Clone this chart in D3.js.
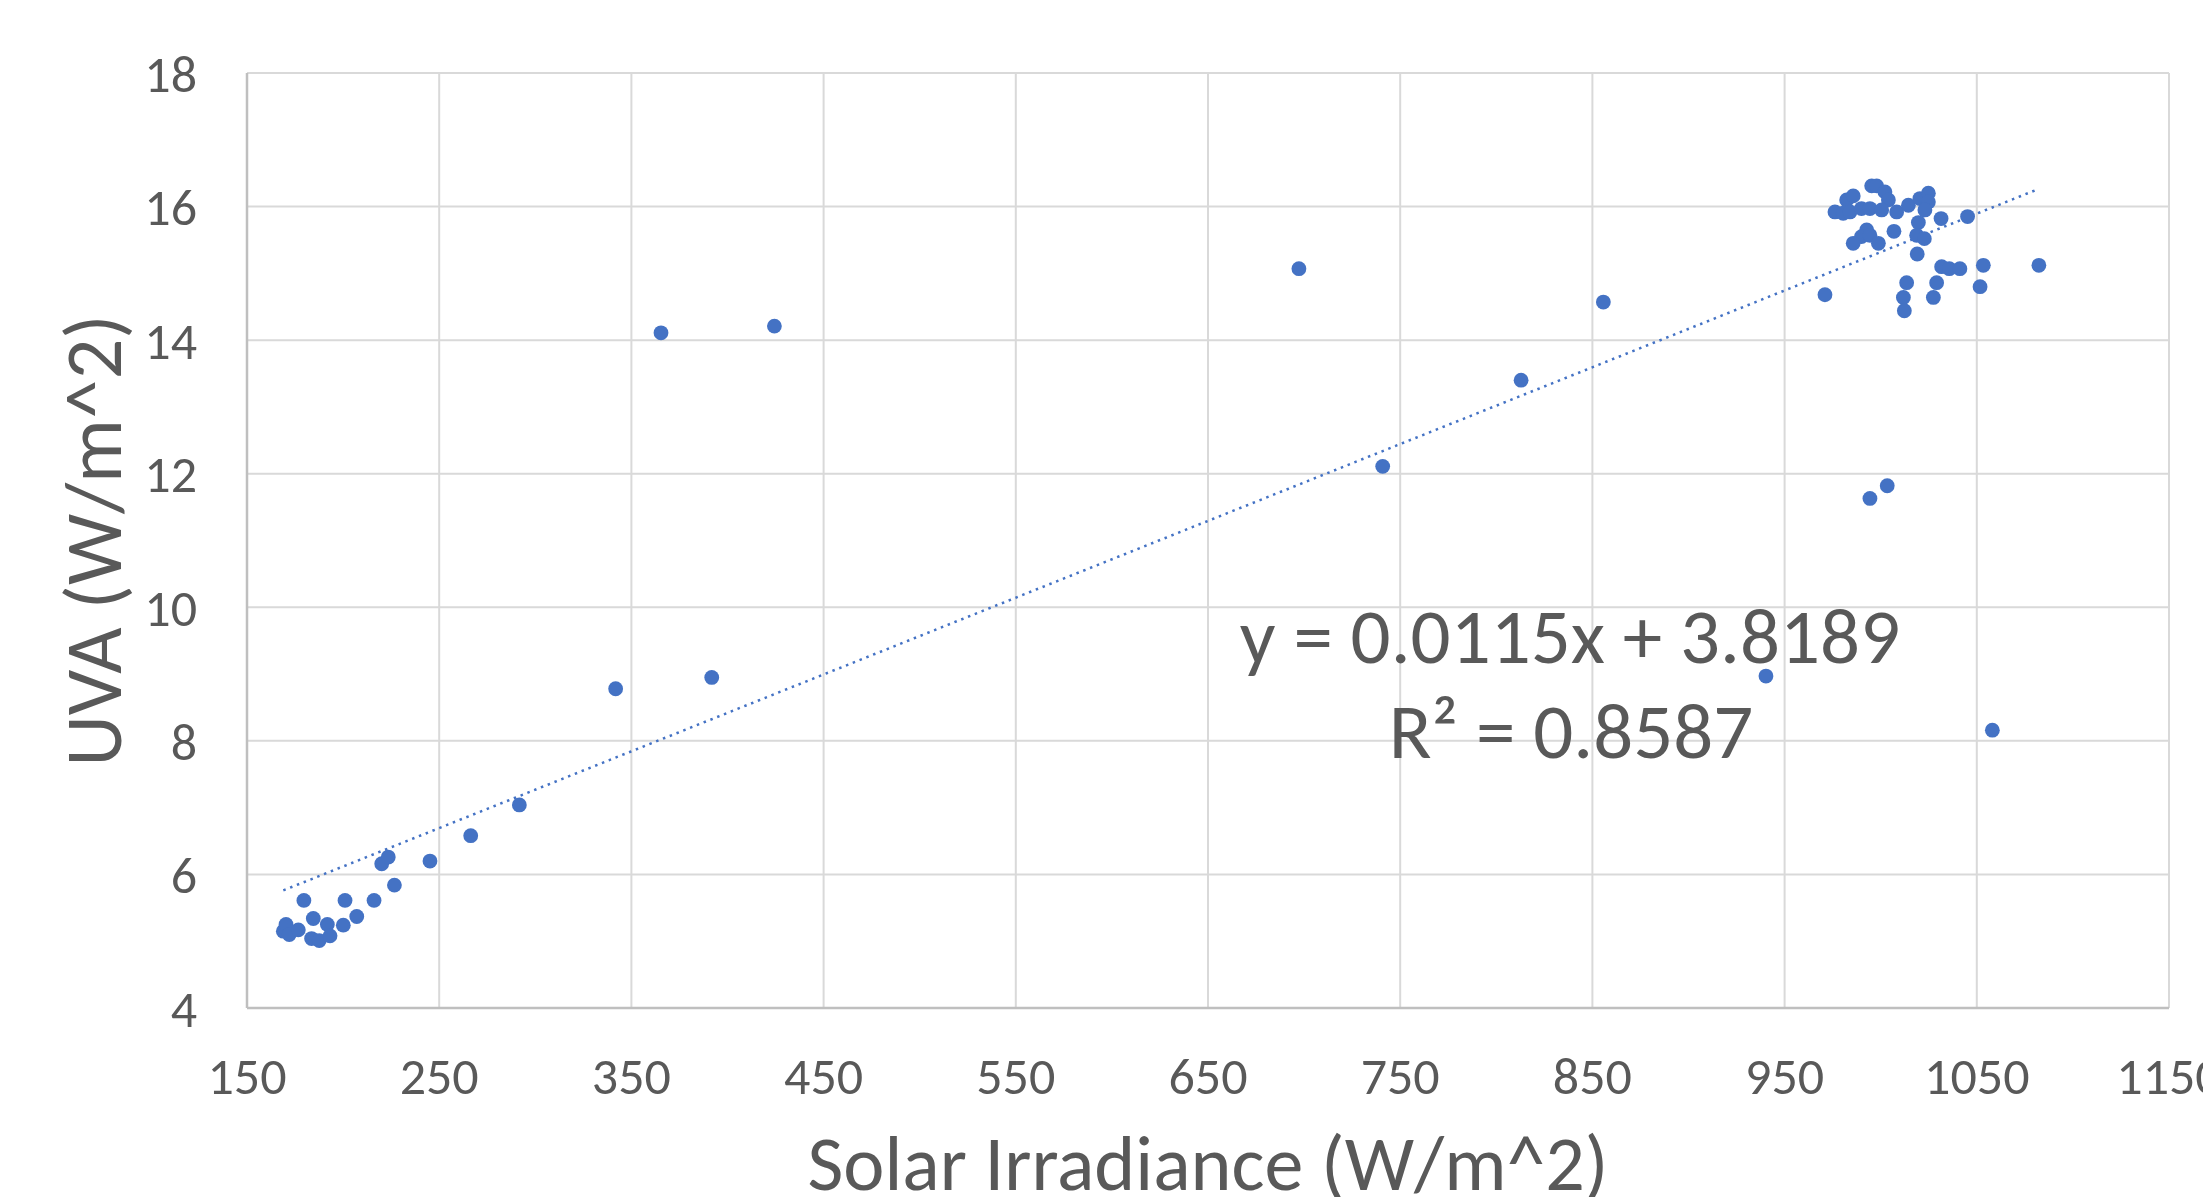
<!DOCTYPE html>
<html>
<head>
<meta charset="utf-8">
<script src="https://cdn.jsdelivr.net/npm/d3@7"></script>
<style>
  body { margin: 0; background: #fff; }
  text { font-family: Carlito, Lato, "Open Sans", sans-serif; fill: #595959; }
</style>
</head>
<body>
<script>
// solar irradiance readings (W/m^2)
var irradiance = [
  168.9, 170.3, 172.0, 176.7, 179.6, 183.6, 184.5, 187.6, 191.8, 193.2,
  200.1, 201.0, 207.1, 216.1, 220.1, 223.5, 226.7, 245.2, 266.4, 291.7,
  341.8, 365.4, 391.8, 424.4, 697.3, 740.9, 812.9, 855.7, 940.3,
  971.0, 976.2, 980.5, 982.3, 985.7, 984.0, 990.0, 994.4, 995.3, 997.9,
  1002.2, 1004.0, 1000.5, 1008.3, 1014.4, 1020.4, 1024.8, 1024.8, 1023.0, 1019.6,
  1031.4, 1045.2, 992.7, 990.0, 985.7, 994.4, 998.8, 1006.9, 1018.7, 1022.7,
  1019.0, 1031.7, 1035.7, 1041.2, 1053.4, 1082.3, 1013.5, 1029.1, 1051.7, 1011.8,
  1027.4, 1012.3, 1003.4, 994.4, 1058.1
];

// matching UVA readings (W/m^2)
var uva = [
  5.15, 5.25, 5.10, 5.17, 5.61, 5.04, 5.34, 5.01, 5.25, 5.08,
  5.24, 5.61, 5.37, 5.61, 6.16, 6.26, 5.84, 6.20, 6.58, 7.04,
  8.78, 14.11, 8.95, 14.21, 15.07, 12.11, 13.40, 14.57, 8.97,
  14.68, 15.92, 15.90, 16.10, 16.16, 15.92, 15.97, 15.97, 16.31, 16.31,
  16.22, 16.10, 15.95, 15.92, 16.02, 16.12, 16.20, 16.07, 15.95, 15.76,
  15.82, 15.85, 15.65, 15.55, 15.45, 15.57, 15.45, 15.63, 15.57, 15.52,
  15.29, 15.10, 15.07, 15.07, 15.12, 15.12, 14.86, 14.86, 14.80, 14.64,
  14.64, 14.44, 11.82, 11.63, 8.16
];

var xTicks = [150, 250, 350, 450, 550, 650, 750, 850, 950, 1050, 1150];
var yTicks = [4, 6, 8, 10, 12, 14, 16, 18];

// excel linear trendline
var slope = 0.0115,
    intercept = 3.8189;
var eqLabel = "y = 0.0115x + 3.8189",
    r2Label = "R\u00b2 = 0.8587";

var width = 2203,
    height = 1197,
    plotL = 247, plotR = 2169, plotT = 73, plotB = 1008;

var svg = d3.select("body").append("svg")
    .attr("width", width)
    .attr("height", height);

var x = d3.scaleLinear().domain([150, 1150]).range([plotL, plotR]);
var y = d3.scaleLinear().domain([4, 18]).range([plotB, plotT]);

// grid
svg.append("g").selectAll("line")
    .data(xTicks)
  .enter().append("line")
    .attr("x1", function(d) { return x(d); })
    .attr("x2", function(d) { return x(d); })
    .attr("y1", plotT)
    .attr("y2", plotB)
    .style("stroke", "#d9d9d9")
    .style("stroke-width", 2);

svg.append("g").selectAll("line")
    .data(yTicks)
  .enter().append("line")
    .attr("x1", plotL)
    .attr("x2", plotR)
    .attr("y1", function(d) { return y(d); })
    .attr("y2", function(d) { return y(d); })
    .style("stroke", "#d9d9d9")
    .style("stroke-width", 2);

// axis lines
svg.append("line")
    .attr("x1", plotL).attr("x2", plotL)
    .attr("y1", plotT).attr("y2", plotB)
    .style("stroke", "#bfbfbf").style("stroke-width", 2.5);
svg.append("line")
    .attr("x1", plotL).attr("x2", plotR)
    .attr("y1", plotB).attr("y2", plotB)
    .style("stroke", "#bfbfbf").style("stroke-width", 2.5);

// tick labels
svg.append("g").selectAll("text")
    .data(xTicks)
  .enter().append("text")
    .attr("x", function(d) { return x(d); })
    .attr("y", 1094)
    .attr("text-anchor", "middle")
    .style("font-size", "52px")
    .text(function(d) { return d; });

svg.append("g").selectAll("text")
    .data(yTicks)
  .enter().append("text")
    .attr("x", 197)
    .attr("y", function(d) { return y(d); })
    .attr("dy", "0.36em")
    .attr("text-anchor", "end")
    .style("font-size", "52px")
    .text(function(d) { return d; });

// axis titles
svg.append("text")
    .attr("x", (plotL + plotR) / 2)
    .attr("y", 1190)
    .attr("text-anchor", "middle")
    .style("font-size", "78px")
    .text("Solar Irradiance (W/m^2)");

svg.append("text")
    .attr("transform", "translate(121," + ((plotT + plotB) / 2) + ") rotate(-90)")
    .attr("text-anchor", "middle")
    .style("font-size", "80px")
    .text("UVA (W/m^2)");

// trendline over the data range
var xMin = d3.min(irradiance),
    xMax = d3.max(irradiance);
svg.append("line")
    .attr("x1", x(xMin))
    .attr("y1", y(slope * xMin + intercept))
    .attr("x2", x(xMax))
    .attr("y2", y(slope * xMax + intercept))
    .style("stroke", "#4472c4")
    .style("stroke-width", 2.5)
    .style("stroke-dasharray", "2.5,4.8");

// points
svg.append("g").selectAll("circle")
    .data(irradiance)
  .enter().append("circle")
    .attr("cx", function(d) { return x(d); })
    .attr("cy", function(d, i) { return y(uva[i]); })
    .attr("r", 7.4)
    .style("fill", "#4472c4");

// equation label
svg.append("text")
    .attr("x", 1570)
    .attr("y", 663)
    .attr("text-anchor", "middle")
    .style("font-size", "79px")
    .text(eqLabel);
svg.append("text")
    .attr("x", 1571)
    .attr("y", 758)
    .attr("text-anchor", "middle")
    .style("font-size", "79px")
    .text(r2Label);
</script>
</body>
</html>
